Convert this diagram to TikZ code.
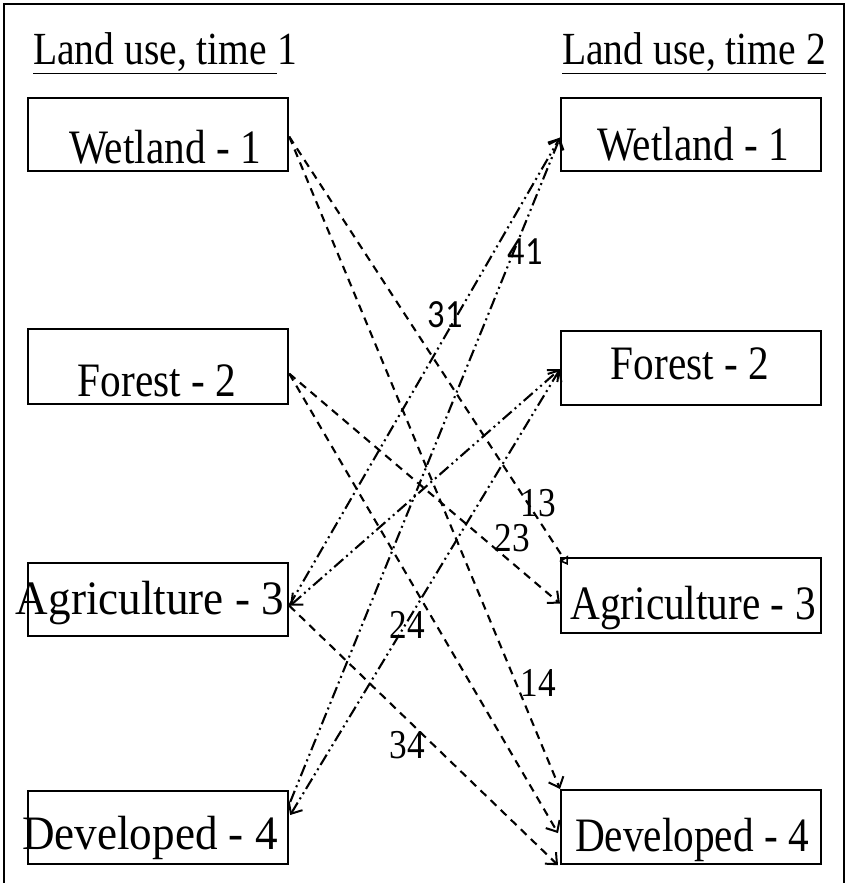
\documentclass[tikz,border=0pt]{standalone}
\usepackage{fontspec}
\usepackage{graphicx}
\setmainfont{Liberation Serif}
\newfontfamily\sansf{Carlito}
\newcommand{\sqz}[2][0.86]{\scalebox{#1}[1]{#2}}
\usetikzlibrary{arrows.meta}
\begin{document}
\begin{tikzpicture}[x=1pt,y=-1pt,
  box/.style={draw,line width=2.2pt,minimum width=260pt,minimum height=73pt,inner sep=0pt,anchor=north west},
  boxtext/.style={font=\fontsize{48}{54}\selectfont,inner sep=0pt,anchor=base},
  lbl/.style={font=\fontsize{41}{46}\selectfont,inner sep=0pt},
  slbl/.style={font=\sansf\fontsize{40}{46}\selectfont,inner sep=0pt},
  hdr/.style={font=\fontsize{46}{52}\selectfont,inner sep=0pt,anchor=base west},
  barb/.tip={Straight Barb[length=9pt,width=16pt,line width=2pt]},
  dsh/.style={line width=2.1pt,dash pattern=on 8pt off 6pt,-barb},
  ddot/.style={line width=2.1pt,dash pattern=on 12pt off 4pt on 2pt off 4pt on 2pt off 4pt,-barb},
]
\useasboundingbox (0,0) rectangle (849,883);
\draw[line width=2.2pt] (4,883) -- (4,4) -- (844,4) -- (844,883);

% headers
\node[hdr] (h1) at (33,65) {\sqz{\underline{Land use, time }1}};
\node[hdr] (h2) at (562,65) {\sqz{\underline{Land use, time 2}}};

% left boxes
\node[box] (w1) at (27,97) {};
\node[box,minimum height=75pt] (f1) at (27,328) {};
\node[box] (a1) at (27,562) {};
\node[box] (d1) at (27,790) {};
% right boxes
\node[box] (w2) at (560,97) {};
\node[box,minimum height=74pt] (f2) at (560,330) {};
\node[box,minimum height=75pt] (a2) at (560,557) {};
\node[box,minimum height=74pt] (d2) at (560,789) {};

% box texts
\node[boxtext] (tw1) at (165,163) {\sqz{Wetland - 1}};
\node[boxtext] (tf1) at (157,396) {\sqz{Forest - 2}};
\node[boxtext] (ta1) at (150,614) {\sqz[0.94]{Agriculture - 3}};
\node[boxtext] (td1) at (150,849) {\sqz[0.94]{Developed - 4}};
\node[boxtext] (tw2) at (693,160) {\sqz{Wetland - 1}};
\node[boxtext] (tf2) at (690,379) {\sqz{Forest - 2}};
\node[boxtext] (ta2) at (693,619) {\sqz{Agriculture - 3}};
\node[boxtext] (td2) at (692,851) {\sqz{Developed - 4}};

% dashed transitions
\draw[dsh,-{Triangle[open,length=8pt,width=10pt,line width=1.6pt]}] ([yshift=-2pt]w1.east) -- ([xshift=8pt,yshift=-8pt]a2.north west);
\draw[dsh] ([yshift=-2pt]w1.east) -- (d2.north west);
\draw[dsh] ([yshift=-7pt]f1.east) -- ([yshift=-8pt]a2.west);
\draw[dsh] ([yshift=-7pt]f1.east) -- ([xshift=-2pt,yshift=-6pt]d2.west);
\draw[dsh] ([yshift=-6pt]a1.east) -- ([xshift=-2pt]d2.south west);

% dash-dot-dot transitions
\draw[ddot] ([yshift=-6pt]a1.east) -- ([yshift=-3pt]w2.west);
\draw[ddot,barb-barb] ([xshift=1pt,yshift=-6pt]a1.east) -- ([yshift=-1pt]f2.west);
\draw[ddot] ([xshift=1pt,yshift=-12pt]d1.north east) -- ([yshift=-3pt]w2.west);
\draw[ddot,barb-barb] ([xshift=1pt,yshift=-25pt]d1.north east) -- ([yshift=-1pt]f2.west);

% labels
\node[slbl] (l31) at (445,315) {\sqz{31}};
\node[slbl] (l41) at (525,252) {\sqz{41}};
\node[lbl] (l13) at (538,503) {\sqz{13}};
\node[lbl] (l23) at (512,538) {\sqz{23}};
\node[lbl] (l24) at (407,625) {\sqz{24}};
\node[lbl] (l14) at (538,683) {\sqz{14}};
\node[lbl] (l34) at (407,745) {\sqz{34}};
\end{tikzpicture}
\end{document}
